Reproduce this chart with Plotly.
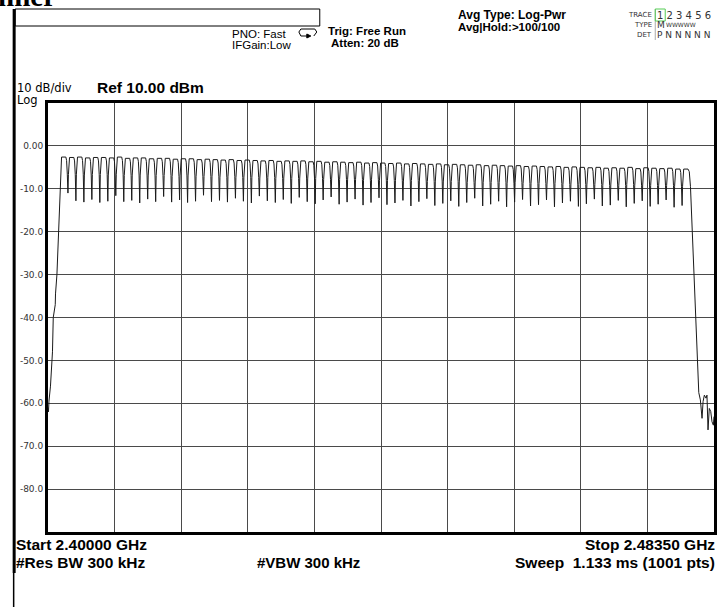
import plotly.graph_objects as go

# ---------------- data ----------------
channel_mhz = list(range(2402, 2481))          # 79 hopping channels, 1 MHz apart

peak_dbm = [
    -2.6, -2.7, -2.6, -2.8, -2.7, -2.7, -2.8, -2.6, -2.9, -2.8,
    -2.8, -3.0, -2.9, -2.9, -3.1, -3.0, -3.0, -3.2, -3.1, -3.2,
    -3.3, -3.2, -3.4, -3.3, -3.4, -3.5, -3.4, -3.6, -3.5, -3.6,
    -3.5, -3.7, -3.6, -3.8, -3.7, -3.8, -3.9, -3.8, -4.0, -3.9,
    -4.0, -4.1, -4.0, -4.2, -4.1, -4.2, -4.3, -4.2, -4.4, -4.3,
    -4.4, -4.5, -4.4, -4.6, -4.5, -4.6, -4.7, -4.6, -4.8, -4.7,
    -4.8, -4.9, -4.8, -5.0, -4.9, -5.0, -5.1, -5.0, -5.2, -5.1,
    -5.2, -5.0, -5.3, -5.1, -5.2, -5.3, -5.2, -5.4, -5.4]

dip_dbm = [
    -11.0, -12.8, -13.1, -12.5, -13.2, -12.9, -11.6, -13.0, -12.7, -13.3,
    -12.4, -13.0, -11.8, -13.1, -12.6, -13.2, -12.9, -11.5, -13.0, -12.7,
    -13.1, -12.2, -12.9, -13.3, -11.7, -12.8, -13.2, -12.5, -13.4, -12.0,
    -13.0, -13.5, -12.6, -11.9, -13.6, -13.1, -12.4, -13.8, -13.2, -12.1,
    -13.7, -13.3, -12.7, -14.0, -13.0, -12.3, -13.9, -13.4, -12.8, -14.1,
    -13.2, -12.2, -14.0, -13.6, -12.9, -14.2, -13.1, -12.5, -14.0, -13.7,
    -12.6, -14.2, -13.3, -12.9, -14.1, -13.5, -12.4, -14.0, -13.8, -12.7,
    -14.2, -13.4, -12.8, -14.1, -13.6, -12.6, -14.3, -13.9]

left_edge_mhz = [2400.00, 2400.06, 2400.12, 2400.31, 2400.56, 2400.66, 2400.91,
                 2400.94, 2401.12, 2401.31, 2401.50, 2401.62]
left_edge_dbm = [-61.0, -62.0, -59.5, -56.0, -48.0, -40.0, -37.0,
                 -34.5, -30.0, -22.0, -13.0, -6.5]

right_edge_mhz = [2480.40, 2480.55, 2480.67, 2480.96, 2481.16, 2481.38, 2481.59,
                  2481.79, 2482.00, 2482.13, 2482.29, 2482.50, 2482.62, 2482.75,
                  2482.91, 2483.09, 2483.25, 2483.42, 2483.50]
right_edge_dbm = [-6.0, -9.5, -15.3, -29.7, -39.8, -49.9, -57.5,
                  -59.2, -63.5, -59.6, -58.1, -58.8, -58.1, -66.2,
                  -61.2, -61.9, -64.3, -65.1, -63.1]

y_tick_vals = [0, -10, -20, -30, -40, -50, -60, -70, -80]
y_tick_text = ["0.00", "-10.0", "-20.0", "-30.0", "-40.0", "-50.0", "-60.0", "-70.0", "-80.0"]

start_mhz, stop_mhz = 2400.0, 2483.5
ref_dbm, div_db = 10.0, 10.0

# ---------------- build the trace polyline ----------------
freq, level = list(left_edge_mhz), list(left_edge_dbm)
n = len(channel_mhz)
for k, c in enumerate(channel_mhz):
    p = peak_dbm[k]
    shape = [(-0.44, p - 4.0), (-0.38, p - 0.7), (-0.30, p), (0.24, p)]
    if k == 0:
        shape = shape[2:]
    if k < n - 1:
        shape += [(0.33, p - 0.8), (0.42, p - 4.0), (0.5, dip_dbm[k])]
    for off, lv in shape:
        freq.append(c + off)
        level.append(lv)
freq += right_edge_mhz
level += right_edge_dbm

# ---------------- figure ----------------
W, H = 718, 607
L, R, T, B = 48, 717, 103, 532
SANS = "Liberation Sans, Arial, sans-serif"
WIDE = "DejaVu Sans, Verdana, sans-serif"


def px(x):
    return (x - L) / (R - L)


def py(y):
    return (B - y) / (B - T)


fig = go.Figure()
fig.add_trace(go.Scatter(x=freq, y=level, mode="lines",
                         line=dict(color="#1a1a1a", width=1), hoverinfo="skip"))

fig.update_layout(
    width=W, height=H,
    margin=dict(l=L, r=W - R, t=T, b=H - B, pad=0),
    paper_bgcolor="white", plot_bgcolor="white",
    showlegend=False,
    font=dict(family=SANS, color="black"),
)
fig.update_xaxes(range=[start_mhz, stop_mhz], tick0=start_mhz,
                 dtick=(stop_mhz - start_mhz) / 10,
                 showgrid=True, gridcolor="#4a4a4a", gridwidth=1,
                 showticklabels=False, ticks="", zeroline=False,
                 showline=True, mirror=True, linecolor="black", linewidth=3)
fig.update_yaxes(range=[ref_dbm - 10 * div_db, ref_dbm], tickmode="array",
                 tickvals=y_tick_vals, ticktext=y_tick_text,
                 showgrid=True, gridcolor="#4a4a4a", gridwidth=1,
                 ticks="", zeroline=False,
                 tickfont=dict(size=9, color="#333333", family=WIDE),
                 showline=True, mirror=True, linecolor="black", linewidth=3)

ann = []


def text(x, y, s, size=11, bold=False, xanchor="left", family=None, color="black"):
    ann.append(dict(x=px(x), y=py(y), xref="paper", yref="paper",
                    text=("<b>%s</b>" % s) if bold else s, showarrow=False,
                    xanchor=xanchor, yanchor="middle", borderpad=0,
                    font=dict(size=size, color=color, family=family or SANS)))


text(-3, -4, "nner", size=29, bold=True, family="Liberation Serif, Times New Roman, serif")
text(232, 34, "PNO: Fast", size=11.5)
text(232, 45, "IFGain:Low", size=11.5)
text(328, 31, "Trig: Free Run", size=11.5, bold=True)
text(331, 43, "Atten: 20 dB", size=11.5, bold=True)
text(459, 15, "Avg Type: Log-Pwr", size=12, bold=True)
text(459, 27, "Avg|Hold:>100/100", size=11.5, bold=True)
text(656, 15, "TRACE", size=7, xanchor="right", color="#333333", family=WIDE)
text(656, 25, "TYPE", size=7, xanchor="right", color="#333333", family=WIDE)
text(656, 35, "DET", size=7, xanchor="right", color="#333333", family=WIDE)
text(659, 15, "1 2 3 4 5 6", size=10, color="#333333", family=WIDE)
text(659, 25, "M", size=9, color="#333333", family=WIDE)
text(668, 25, "WWWWW", size=6, color="#333333", family=WIDE)
text(659, 35, "P N N N N N", size=9, color="#333333", family=WIDE)
text(16, 88, "10 dB/div", size=11.5, family=WIDE)
text(16, 100, "Log", size=11.5, family=WIDE)
text(96, 88, "Ref 10.00 dBm", size=15.5, bold=True)
text(15, 544, "Start 2.40000 GHz", size=15.5, bold=True)
text(15, 562, "#Res BW 300 kHz", size=15.5, bold=True)
text(257, 562, "#VBW 300 kHz", size=15, bold=True)
text(719, 544, "Stop 2.48350 GHz", size=15.5, bold=True, xanchor="right")
text(719, 562, "Sweep  1.133 ms (1001 pts)", size=15.5, bold=True, xanchor="right")

shapes = [
    dict(type="line", xref="paper", yref="paper", x0=px(14), x1=px(14), y0=py(9), y1=py(573),
         line=dict(color="black", width=3)),
    dict(type="line", xref="paper", yref="paper", x0=px(13.5), x1=px(13.5), y0=py(573), y1=py(607),
         line=dict(color="black", width=1.5)),
    dict(type="rect", xref="paper", yref="paper", x0=px(15), x1=px(321), y0=py(9), y1=py(26),
         line=dict(color="black", width=1)),
    dict(type="line", xref="paper", yref="paper", x0=px(658), x1=px(658), y0=py(9), y1=py(40),
         line=dict(color="#aaaaaa", width=1)),
    dict(type="rect", xref="paper", yref="paper", x0=px(658), x1=px(668), y0=py(9), y1=py(21),
         line=dict(color="#55cc55", width=1)),
    dict(type="path", xref="paper", yref="paper",
         path="M %f,%f L %f,%f L %f,%f L %f,%f L %f,%f" % (
             px(309), py(36), px(302), py(36), px(300), py(32), px(302), py(29), px(316), py(29)),
         line=dict(color="black", width=1)),
    dict(type="path", xref="paper", yref="paper",
         path="M %f,%f L %f,%f L %f,%f" % (px(316), py(29), px(318), py(32), px(315), py(36)),
         line=dict(color="black", width=1)),
    dict(type="path", xref="paper", yref="paper",
         path="M %f,%f L %f,%f L %f,%f Z" % (px(308), py(34), px(312), py(36), px(308), py(38)),
         fillcolor="black", line=dict(color="black", width=1)),
]

fig.update_layout(annotations=ann, shapes=shapes)
fig.write_html("out.html", config={"displayModeBar": False},
               post_script="document.body.style.margin='0';"
                           "document.body.style.overflow='hidden';")
